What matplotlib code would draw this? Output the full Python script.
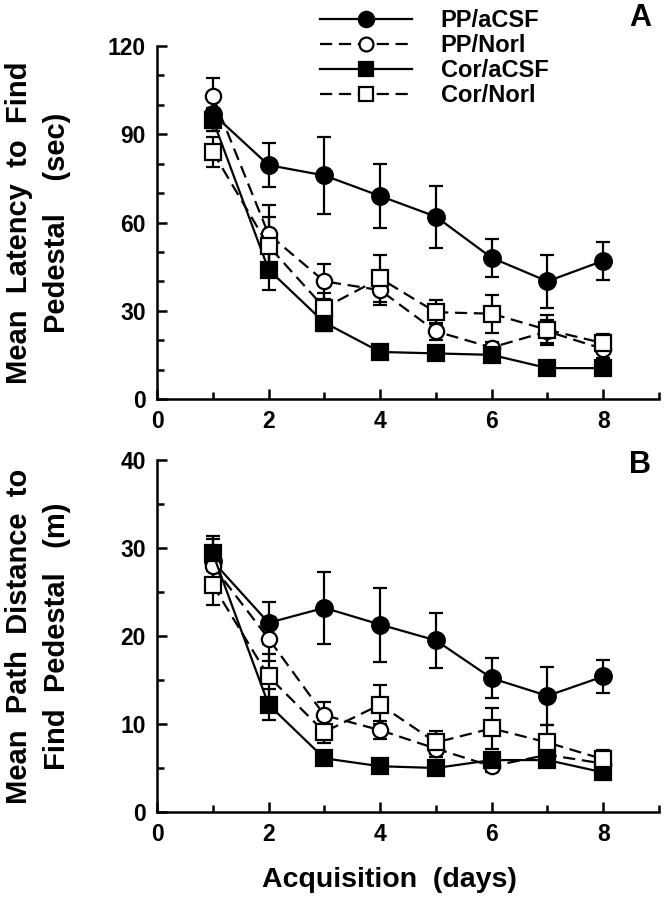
import matplotlib.pyplot as plt
from matplotlib.ticker import MultipleLocator
from matplotlib.lines import Line2D

plt.rcParams['font.family'] = ['Liberation Sans', 'DejaVu Sans']
plt.rcParams['font.weight'] = 'bold'

days = [1, 2, 3, 4, 5, 6, 7, 8]
groups = ['PP/aCSF', 'PP/Norl', 'Cor/aCSF', 'Cor/Norl']

# panel A: latency (sec)
lat_pp_acsf = [97, 79.5, 76, 69, 62, 48, 40, 47]
lat_pp_acsf_err = [6, 7.5, 13, 11, 10.5, 6.5, 9, 6.5]
lat_pp_norl = [103, 56, 40, 37, 23, 17.5, 23, 17]
lat_pp_norl_err = [6, 10, 6, 5, 3, 2, 4, 3]
lat_cor_acsf = [95, 44, 26, 16, 15.5, 15, 10.5, 10.5]
lat_cor_acsf_err = [4, 7, 3, 2, 2, 2, 1.5, 1.5]
lat_cor_norl = [84, 52, 31, 41, 29.5, 29, 23.5, 19]
lat_cor_norl_err = [5, 10, 5, 8, 4, 6.5, 5, 3]

# panel B: path distance (m)
dist_pp_acsf = [28.5, 21.5, 23.2, 21.3, 19.5, 15.2, 13.2, 15.4]
dist_pp_acsf_err = [2.5, 2.4, 4.1, 4.2, 3.1, 2.3, 3.3, 1.9]
dist_pp_norl = [28, 19.7, 11, 9.3, 7.2, 5.2, 6.5, 5.5]
dist_pp_norl_err = [2, 2.5, 1.5, 1, 1, 0.7, 1, 0.8]
dist_cor_acsf = [29.4, 12.2, 6.1, 5.2, 5, 5.9, 5.9, 4.5]
dist_cor_acsf_err = [2, 1.8, 0.6, 0.5, 0.5, 0.6, 0.6, 0.5]
dist_cor_norl = [25.8, 15.4, 9.1, 12.2, 7.9, 9.5, 7.9, 6]
dist_cor_norl_err = [2.3, 2.6, 1.3, 2.2, 1.3, 2.3, 2, 1]

dash = (0, (5.5, 3))
styles = [
    dict(ls='-', marker='o', mfc='black', ms=12),
    dict(ls=dash, marker='o', mfc='white', ms=11),
    dict(ls='-', marker='s', mfc='black', ms=11),
    dict(ls=dash, marker='s', mfc='white', ms=11),
]

fig = plt.figure(figsize=(6.67, 8.99), dpi=100)
W, H = 667, 899
axA = fig.add_axes([157 / W, 1 - 399 / H, 502 / W, 353 / H])
axB = fig.add_axes([157 / W, 1 - 812 / H, 502 / W, 352 / H])


def draw(ax, series, errs):
    for y, e, st in zip(series, errs, styles):
        ax.errorbar(days, y, yerr=e, color='black', lw=1.6, ls=st['ls'],
                    marker=st['marker'], mfc=st['mfc'], mec='black', mew=1.6,
                    ms=st['ms'], capsize=5, capthick=1.8, elinewidth=1.6)
    ax.spines['top'].set_visible(False)
    ax.spines['right'].set_visible(False)
    ax.spines['left'].set_linewidth(1.8)
    ax.spines['bottom'].set_linewidth(1.8)
    ax.set_xlim(0, 9)
    ax.xaxis.set_major_locator(MultipleLocator(2))
    ax.xaxis.set_minor_locator(MultipleLocator(1))
    ax.tick_params(which='both', direction='in', width=1.8, labelsize=16.5, pad=8)
    ax.tick_params(which='major', length=7)
    ax.tick_params(which='minor', length=5)
    for lab in ax.get_xticklabels() + ax.get_yticklabels():
        lab.set_fontweight('bold')


draw(axA, [lat_pp_acsf, lat_pp_norl, lat_cor_acsf, lat_cor_norl],
     [lat_pp_acsf_err, lat_pp_norl_err, lat_cor_acsf_err, lat_cor_norl_err])
axA.set_ylim(0, 120)
axA.yaxis.set_major_locator(MultipleLocator(30))
axA.yaxis.set_minor_locator(MultipleLocator(10))
axA.set_ylabel('Mean  Latency  to  Find\nPedestal    (sec)', fontsize=21,
               fontweight='bold', linespacing=1.45)
axA.yaxis.set_label_coords(-0.172, 0.5)

draw(axB, [dist_pp_acsf, dist_pp_norl, dist_cor_acsf, dist_cor_norl],
     [dist_pp_acsf_err, dist_pp_norl_err, dist_cor_acsf_err, dist_cor_norl_err])
axB.set_ylim(0, 40)
axB.yaxis.set_major_locator(MultipleLocator(10))
axB.yaxis.set_minor_locator(MultipleLocator(5))
axB.set_ylabel('Mean  Path  Distance  to\nFind  Pedestal   (m)', fontsize=21,
               fontweight='bold', linespacing=1.45)
axB.yaxis.set_label_coords(-0.172, 0.5)
axB.set_xlabel('Acquisition  (days)', fontsize=20.5, fontweight='bold')
axB.xaxis.set_label_coords(0.464, -0.155)

handles = [Line2D([], [], color='black', lw=1.6, ls=st['ls'], marker=st['marker'],
                  mfc=st['mfc'], mec='black', mew=1.6, ms=st['ms'] - 1)
           for st in styles]
fig.legend(handles, groups, loc='upper left', bbox_to_anchor=(306 / W, 1 + 5 / H),
           frameon=False, handlelength=3.9, handletextpad=1.2, labelspacing=0.08,
           borderpad=0.1, prop={'size': 17, 'weight': 'bold'})

fig.text(640 / W, 1 - 18 / H, 'A', fontsize=22, fontweight='bold', ha='center', va='center')
fig.text(640 / W, 1 - 465 / H, 'B', fontsize=22, fontweight='bold', ha='center', va='center')

fig.savefig('out.png', dpi=100)
